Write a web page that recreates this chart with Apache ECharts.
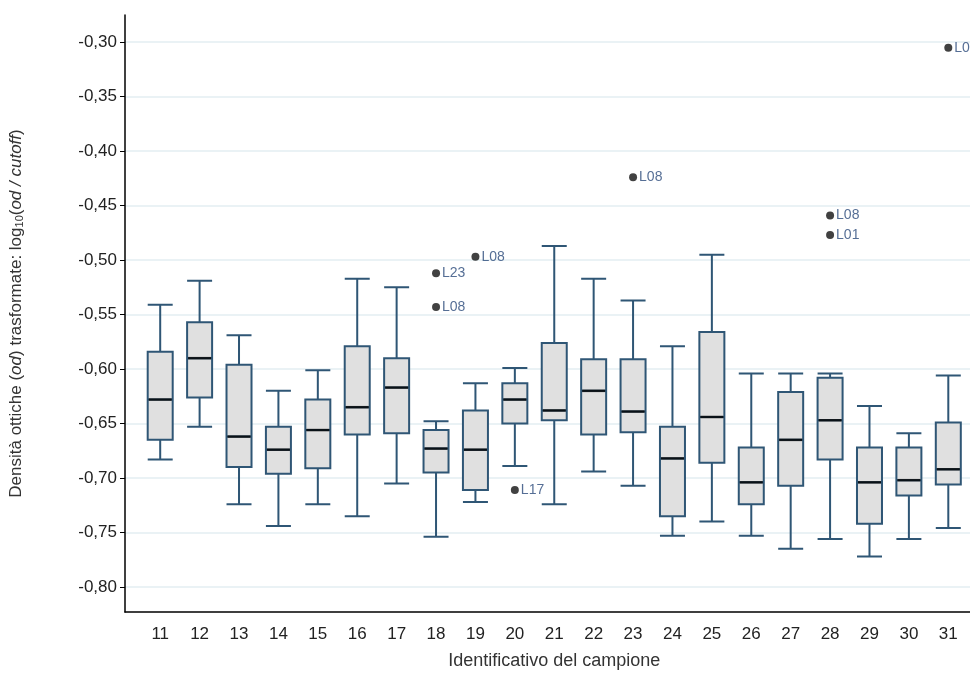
<!DOCTYPE html>
<html><head><meta charset="utf-8">
<script src="https://cdn.jsdelivr.net/npm/echarts@6/dist/echarts.min.js"></script>
<style>html,body{margin:0;padding:0;background:#fff}#c{width:970px;height:681px}</style>
</head><body><div id="c"></div>
<script>
var categories = ["11","12","13","14","15","16","17","18","19","20","21","22","23","24","25","26","27","28","29","30","31"];
// [min, q1, median, q3, max]
var boxValues = [
  [-0.683,-0.665,-0.628,-0.584,-0.541],
  [-0.653,-0.626,-0.590,-0.557,-0.519],
  [-0.724,-0.690,-0.662,-0.596,-0.569],
  [-0.744,-0.696,-0.674,-0.653,-0.620],
  [-0.724,-0.691,-0.656,-0.628,-0.601],
  [-0.735,-0.660,-0.635,-0.579,-0.517],
  [-0.705,-0.659,-0.617,-0.590,-0.525],
  [-0.754,-0.695,-0.673,-0.656,-0.648],
  [-0.722,-0.711,-0.674,-0.638,-0.613],
  [-0.689,-0.650,-0.628,-0.613,-0.599],
  [-0.724,-0.647,-0.638,-0.576,-0.487],
  [-0.694,-0.660,-0.620,-0.591,-0.517],
  [-0.707,-0.658,-0.639,-0.591,-0.537],
  [-0.753,-0.735,-0.682,-0.653,-0.579],
  [-0.740,-0.686,-0.644,-0.566,-0.495],
  [-0.753,-0.724,-0.704,-0.672,-0.604],
  [-0.765,-0.707,-0.665,-0.621,-0.604],
  [-0.756,-0.683,-0.647,-0.608,-0.604],
  [-0.772,-0.742,-0.704,-0.672,-0.634],
  [-0.756,-0.716,-0.702,-0.672,-0.659],
  [-0.746,-0.706,-0.692,-0.649,-0.606]
];
var outlierCats = ["18","18","19","20","23","28","28","31"];
var outlierValues = [-0.512,-0.543,-0.497,-0.711,-0.424,-0.459,-0.477,-0.305];
var outlierLabels = ["L23","L08","L08","L17","L08","L08","L01","L08"];
var yTicks = [-0.80,-0.75,-0.70,-0.65,-0.60,-0.55,-0.50,-0.45,-0.40,-0.35,-0.30];

var chart = echarts.init(document.getElementById("c"));
var font = "Liberation Sans, Arial, sans-serif";
var yMin = -0.823, yMax = -0.275;
chart.setOption({
  animation: false,
  grid: [
    { left: 125, right: 0, top: 15, bottom: 69 },
    { left: 140.5, right: 2, top: 15, bottom: 69 }
  ],
  xAxis: [{
    gridIndex: 0, type: "value", min: 0, max: 1, show: true,
    axisLine: { lineStyle: { color: "#000", width: 1.5 } },
    axisTick: { show: false }, axisLabel: { show: false }, splitLine: { show: false }
  }, {
    gridIndex: 1, type: "category", data: categories,
    name: "Identificativo del campione", nameLocation: "middle", nameGap: 40,
    nameTextStyle: { fontSize: 18, color: "#333", fontFamily: font },
    axisLine: { show: false },
    axisTick: { show: false },
    axisLabel: { fontSize: 17, color: "#222", fontFamily: font, margin: 14 }
  }],
  yAxis: [{
    gridIndex: 0, type: "value", min: yMin, max: yMax,
    name: "Densità ottiche ({i|od}) trasformate: log{s|10}({i|od / cutoff})",
    nameLocation: "middle", nameGap: 100,
    nameTextStyle: { fontSize: 17, color: "#333", fontFamily: font,
      rich: { i: { fontStyle: "italic", fontSize: 17, color: "#333", fontFamily: font },
              s: { fontSize: 11, color: "#333", fontFamily: font, padding: [6, 0, 0, 0] } } },
    axisLine: { show: true, lineStyle: { color: "#000", width: 1.5 } },
    axisTick: { show: true, customValues: yTicks, length: 5, lineStyle: { color: "#000" } },
    axisLabel: { customValues: yTicks, fontSize: 17, color: "#222", fontFamily: font,
      formatter: function (v) { return v.toFixed(2).replace(".", ","); } },
    splitLine: { show: true, lineStyle: { color: "#e3eef2", width: 1.5 } }
  }, {
    gridIndex: 1, type: "value", min: yMin, max: yMax, show: false
  }],
  series: [{
    type: "boxplot", xAxisIndex: 1, yAxisIndex: 1, data: boxValues, boxWidth: [25, 25],
    itemStyle: { color: "#e0e0e0", borderColor: "#2f5675", borderWidth: 2 }
  }, {
    type: "scatter", xAxisIndex: 1, yAxisIndex: 1, symbol: "rect", symbolSize: [23, 2.5],
    itemStyle: { color: "#000" }, z: 5,
    data: boxValues.map(function (b, i) { return [categories[i], b[2]]; })
  }, {
    type: "scatter", xAxisIndex: 1, yAxisIndex: 1, symbolSize: 8,
    itemStyle: { color: "#111" },
    data: outlierCats.map(function (c, i) { return { value: [c, outlierValues[i]], name: outlierLabels[i] }; }),
    label: { show: true, position: "right", distance: 2, formatter: "{b}", color: "#2a4a7a", fontSize: 14, fontFamily: font }
  }]
});
</script></body></html>
